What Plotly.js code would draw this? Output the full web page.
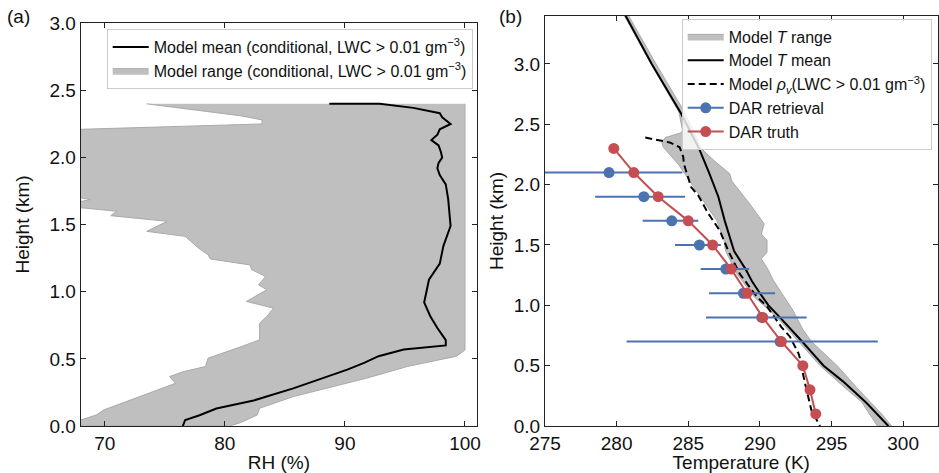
<!DOCTYPE html>
<html>
<head>
<meta charset="utf-8">
<script src="https://cdn.plot.ly/plotly-3.0.1.min.js"></script>
<style>html,body{margin:0;padding:0;background:#fff;}#chart{width:939px;height:473px;}</style>
</head>
<body>
<div id="chart"></div>
<script>
// ---------- Panel (a): RH ----------
const rhMeanH = [2.40, 2.40, 2.37, 2.33, 2.30, 2.25, 2.21, 2.17, 2.13, 2.09, 2.04, 2.00, 1.96, 1.92, 1.87, 1.80, 1.69, 1.49, 1.34, 1.21, 1.09, 1.00, 0.92, 0.82, 0.73, 0.64, 0.60, 0.57, 0.52, 0.47, 0.42, 0.28, 0.19, 0.13, 0.08, 0.045, 0.0];
const rhMean  = [88.7, 92.9, 95.7, 97.9, 98.1, 98.8, 97.9, 97.7, 97.2, 97.8, 98.0, 98.1, 97.8, 97.7, 97.9, 98.4, 98.6, 98.8, 98.2, 97.9, 97.0, 96.8, 96.6, 97.1, 97.7, 98.4, 98.4, 94.9, 92.8, 91.6, 90.2, 85.7, 82.4, 79.3, 77.9, 76.7, 76.5];

// lower bound of model RH range (top -> bottom)
const rhMinH = [2.40, 2.31, 2.28, 2.25, 2.21, 2.20, 1.70, 1.70, 1.687, 1.674, 1.66, 1.63, 1.625, 1.60, 1.567, 1.525, 1.45, 1.413, 1.326, 1.276, 1.244, 1.20, 1.164, 1.114, 1.052, 1.015, 0.928, 0.878, 0.816, 0.766, 0.642, 0.592, 0.505, 0.443, 0.405, 0.368, 0.318, 0.244, 0.119, 0.082, 0.045, 0.0];
const rhMin  = [73.5, 81.4, 83.1, 83.1, 67.9, 55.0, 55.0, 68.0, 68.8, 68.1, 55.0, 55.0, 68.1, 71.0, 70.5, 75.2, 73.5, 76.7, 77.8, 78.6, 78.8, 82.1, 82.25, 83.4, 82.8, 83.5, 81.8, 84.05, 83.5, 82.9, 82.9, 81.4, 78.6, 78.4, 76.55, 75.4, 75.9, 73.6, 69.9, 69.3, 68.0, 66.0];
// upper bound of model RH range (bottom -> top)
const rhMaxH = [0.0, 0.025, 0.082, 0.132, 0.219, 0.356, 0.443, 0.52, 0.567, 2.40];
const rhMax  = [80.4, 81.3, 82.7, 82.9, 85.7, 91.8, 95.2, 99.3, 100.0, 100.0];

// ---------- Panel (b): Temperature ----------
const tMeanH = [3.45, 3.0, 2.6, 2.3, 2.1, 1.9, 1.7, 1.55, 1.45, 1.3, 1.2, 1.1, 1.0, 0.9, 0.8, 0.7, 0.6, 0.5, 0.37, 0.19, 0.0];
const tMean  = [280.4, 282.45, 284.45, 285.75, 286.45, 287.1, 287.55, 287.95, 288.2, 289.0, 289.45, 290.0, 290.6, 291.4, 292.2, 292.95, 293.7, 294.45, 295.8, 297.45, 298.97];

// model T range: left edge (top -> bottom)
const tLoH = [3.45, 3.0, 2.6, 2.45, 2.43, 2.39, 2.35, 2.31, 2.17, 2.03, 1.87, 1.70, 1.54, 1.45, 1.26, 1.07, 0.9, 0.7, 0.5, 0.3, 0.2, 0.0];
const tLo  = [280.3, 282.4, 284.35, 284.6, 284.5, 283.4, 283.15, 283.26, 284.3, 285.1, 286.0, 287.0, 287.5, 287.6, 288.4, 289.6, 291.2, 292.7, 294.2, 296.1, 297.1, 298.2];
// model T range: right edge (bottom -> top)
const tHiH = [0.0, 0.1, 0.3, 0.5, 0.7, 0.8, 0.96, 1.207, 1.29, 1.386, 1.44, 1.54, 1.59, 1.675, 1.84, 2.03, 2.09, 2.2, 2.3, 2.6, 3.0, 3.45];
const tHi  = [299.2, 298.5, 296.9, 295.4, 293.6, 293.0, 292.3, 290.94, 290.6, 290.1, 290.5, 290.5, 290.1, 290.3, 289.3, 288.04, 287.9, 286.8, 285.9, 284.75, 282.75, 280.6];

// model rho_v (dashed)
const rhovH = [2.39, 2.35, 2.31, 2.23, 2.17, 1.98, 1.91, 1.76, 1.62, 1.51, 1.45, 1.26, 1.07, 0.99, 0.92, 0.82, 0.74, 0.60, 0.56, 0.49, 0.33, 0.13, 0.0];
const rhov  = [282.0, 283.7, 284.4, 284.65, 284.7, 285.2, 285.7, 286.4, 287.2, 287.6, 287.8, 288.6, 289.8, 290.5, 290.9, 291.5, 292.1, 292.7, 292.8, 292.9, 293.2, 293.6, 294.2];

// DAR retrieval
const darRetH = [2.1, 1.9, 1.7, 1.5, 1.3, 1.1, 0.9, 0.7];
const darRet  = [279.47, 281.9, 283.85, 285.78, 287.62, 288.85, 290.13, 291.41];
const darErrPlus  = [5.12, 2.88, 1.85, 1.5, 1.63, 2.21, 3.14, 6.82];
const darErrMinus = [5.3, 3.4, 2.03, 1.7, 1.75, 2.4, 3.89, 10.71];

// DAR truth
const darTruthH = [2.3, 2.1, 1.9, 1.7, 1.5, 1.3, 1.1, 0.9, 0.7, 0.5, 0.3, 0.1];
const darTruth  = [279.8, 281.2, 282.9, 285.0, 286.7, 288.0, 289.1, 290.2, 291.5, 293.0, 293.5, 293.9];

// ---------- styles ----------
const FONT = '"Liberation Sans", Arial, Helvetica, sans-serif';
const GRAY = '#bfbfbf';
const GRAYEDGE = '#a9a9a9';
const BLUE = '#4c72b0';
const RED = '#c44e52';

const traces = [
  {x: rhMin.concat(rhMax), y: rhMinH.concat(rhMaxH), xaxis: 'x', yaxis: 'y', mode: 'lines', fill: 'toself',
   fillcolor: GRAY, line: {color: GRAYEDGE, width: 1}, legend: 'legend', legendrank: 2,
   name: 'Model range (conditional, LWC > 0.01 gm<sup>−3</sup>)', hoverinfo: 'skip'},
  {x: rhMean, y: rhMeanH, xaxis: 'x', yaxis: 'y', mode: 'lines', line: {color: '#000', width: 2},
   legend: 'legend', legendrank: 1, name: 'Model mean (conditional, LWC > 0.01 gm<sup>−3</sup>)'},

  {x: tLo.concat(tHi), y: tLoH.concat(tHiH), xaxis: 'x2', yaxis: 'y2', mode: 'lines', fill: 'toself',
   fillcolor: GRAY, line: {color: GRAYEDGE, width: 1}, legend: 'legend2',
   name: 'Model <i>T</i> range', hoverinfo: 'skip'},
  {x: tMean, y: tMeanH, xaxis: 'x2', yaxis: 'y2', mode: 'lines', line: {color: '#000', width: 2},
   legend: 'legend2', name: 'Model <i>T</i> mean'},
  {x: rhov, y: rhovH, xaxis: 'x2', yaxis: 'y2', mode: 'lines', line: {color: '#000', width: 2, dash: '7px,4px'},
   legend: 'legend2', name: 'Model <i>ρ</i><sub><i>v</i></sub>(LWC > 0.01 gm<sup>−3</sup>)'},
  {x: darRet, y: darRetH, xaxis: 'x2', yaxis: 'y2', mode: 'markers', marker: {color: BLUE, size: 11},
   error_x: {type: 'data', symmetric: false, array: darErrPlus, arrayminus: darErrMinus, color: BLUE, thickness: 2, width: 0},
   legend: 'legend2', showlegend: false, name: 'DAR retrieval'},
  {x: [null], y: [null], xaxis: 'x2', yaxis: 'y2', mode: 'lines+markers', marker: {color: BLUE, size: 11},
   line: {color: BLUE, width: 2}, legend: 'legend2', name: 'DAR retrieval'},
  {x: darTruth, y: darTruthH, xaxis: 'x2', yaxis: 'y2', mode: 'lines+markers', marker: {color: RED, size: 11},
   line: {color: RED, width: 2}, legend: 'legend2', name: 'DAR truth'}
];

const axBase = {
  showgrid: false, zeroline: false, showline: true, linecolor: '#222', linewidth: 1,
  mirror: 'ticks', ticks: 'inside', ticklen: 5, tickwidth: 1, tickcolor: '#222',
  tickfont: {family: FONT, size: 19, color: '#111'}, automargin: false
};
const titleFont = {family: FONT, size: 19, color: '#111'};
const legBase = {
  xanchor: 'left', yanchor: 'top', bgcolor: 'rgba(255,255,255,0.8)', bordercolor: '#cccccc', borderwidth: 1,
  font: {family: FONT, size: 16, color: '#111'}, itemwidth: 36, traceorder: 'normal'
};

const layout = {
  width: 939, height: 473,
  margin: {l: 0, r: 0, t: 0, b: 0},
  paper_bgcolor: '#fff', plot_bgcolor: '#fff',
  font: {family: FONT},
  xaxis: Object.assign({}, axBase, {domain: [80.7/939, 477/939], range: [68, 101], tickvals: [70, 80, 90, 100],
    title: {text: 'RH (%)', font: titleFont}, anchor: 'y'}),
  yaxis: Object.assign({}, axBase, {domain: [1 - 426/473, 1 - 23.3/473], range: [0, 3], dtick: 0.5, tick0: 0,
    tickformat: '.1f', anchor: 'x'}),
  xaxis2: Object.assign({}, axBase, {domain: [545/939, 937.5/939], range: [275, 302.4], tickvals: [275, 280, 285, 290, 295, 300],
    title: {text: 'Temperature (K)', font: titleFont}, anchor: 'y2'}),
  yaxis2: Object.assign({}, axBase, {domain: [1 - 426/473, 1 - 15.7/473], range: [0, 3.4], dtick: 0.5, tick0: 0,
    tickformat: '.1f', anchor: 'x2'}),
  legend: Object.assign({}, legBase, {x: 106.7/939, y: 1 - 29/473}),
  legend2: Object.assign({}, legBase, {x: 681.7/939, y: 1 - 18.5/473}),
  showlegend: true,
  annotations: [
    {text: '(a)', xref: 'paper', yref: 'paper', x: 5/939, y: 1 - 4/473, xanchor: 'left', yanchor: 'top', showarrow: false,
     font: {family: FONT, size: 19, color: '#111'}},
    {text: '(b)', xref: 'paper', yref: 'paper', x: 497/939, y: 1 - 4/473, xanchor: 'left', yanchor: 'top', showarrow: false,
     font: {family: FONT, size: 19, color: '#111'}},
    {text: 'Height (km)', xref: 'paper', yref: 'paper', x: 22/939, y: 1 - 224.5/473, xanchor: 'center', yanchor: 'middle',
     textangle: -90, showarrow: false, font: titleFont},
    {text: 'Height (km)', xref: 'paper', yref: 'paper', x: 497/939, y: 1 - 221/473, xanchor: 'center', yanchor: 'middle',
     textangle: -90, showarrow: false, font: titleFont}
  ]
};

Plotly.newPlot('chart', traces, layout, {displayModeBar: false, staticPlot: true});
</script>
</body>
</html>
